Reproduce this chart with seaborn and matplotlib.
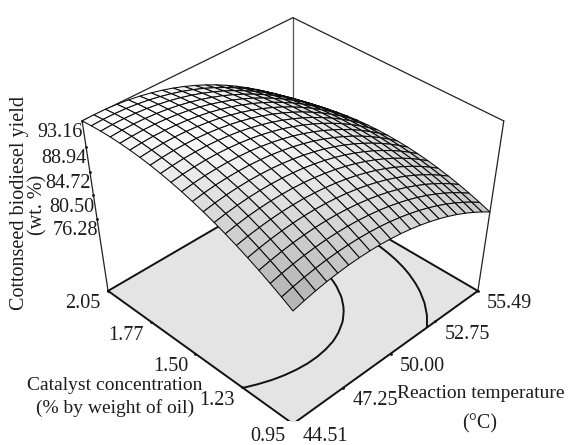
import numpy as np
import seaborn as sns
import matplotlib
matplotlib.use("Agg")
import matplotlib.pyplot as plt
from mpl_toolkits.mplot3d import proj3d

# ticks
TEMP_TICKS = [44.51, 47.25, 50.00, 52.75, 55.49]
CAT_TICKS = [0.95, 1.23, 1.50, 1.77, 2.05]
YIELD_TICKS = [93.16, 88.94, 84.72, 80.50, 76.28]
YIELD_FLOOR = 62.0
CONTOUR_LEVELS = [82.8, 88.42]

# estimated yield, rows go with catalyst 0.95 -> 2.05, columns with temperature 44.51 -> 55.49
YIELD = [
    [83.50, 84.00, 84.42, 84.75, 84.99, 85.16, 85.23, 85.23, 85.14, 84.96, 84.71, 84.36, 83.94, 83.42, 82.83, 82.15, 81.39, 80.54, 79.60, 78.59, 77.49],
    [84.62, 85.10, 85.49, 85.80, 86.03, 86.17, 86.22, 86.19, 86.08, 85.89, 85.61, 85.24, 84.79, 84.26, 83.64, 82.94, 82.16, 81.28, 80.33, 79.29, 78.17],
    [85.67, 86.13, 86.50, 86.79, 86.99, 87.11, 87.14, 87.10, 86.96, 86.74, 86.44, 86.05, 85.58, 85.03, 84.39, 83.67, 82.86, 81.97, 80.99, 79.93, 78.79],
    [86.66, 87.09, 87.44, 87.71, 87.89, 87.99, 88.00, 87.93, 87.77, 87.53, 87.21, 86.80, 86.31, 85.73, 85.07, 84.32, 83.50, 82.58, 81.58, 80.50, 79.33],
    [87.58, 87.99, 88.32, 88.56, 88.72, 88.80, 88.79, 88.69, 88.52, 88.25, 87.91, 87.48, 86.96, 86.37, 85.68, 84.92, 84.07, 83.13, 82.11, 81.01, 79.82],
    [88.43, 88.82, 89.12, 89.35, 89.48, 89.54, 89.51, 89.39, 89.19, 88.91, 88.54, 88.09, 87.55, 86.93, 86.23, 85.44, 84.57, 83.61, 82.57, 81.44, 80.23],
    [89.21, 89.58, 89.87, 90.07, 90.18, 90.21, 90.16, 90.02, 89.80, 89.50, 89.11, 88.63, 88.08, 87.44, 86.71, 85.90, 85.00, 84.02, 82.96, 81.81, 80.58],
    [89.93, 90.28, 90.54, 90.72, 90.81, 90.82, 90.75, 90.59, 90.35, 90.02, 89.61, 89.11, 88.53, 87.87, 87.12, 86.29, 85.37, 84.37, 83.29, 82.12, 80.86],
    [90.58, 90.91, 91.15, 91.30, 91.38, 91.36, 91.27, 91.09, 90.82, 90.47, 90.04, 89.52, 88.92, 88.24, 87.47, 86.61, 85.67, 84.65, 83.54, 82.35, 81.08],
    [91.16, 91.47, 91.69, 91.82, 91.87, 91.84, 91.72, 91.52, 91.23, 90.86, 90.41, 89.87, 89.24, 88.54, 87.74, 86.87, 85.91, 84.86, 83.73, 82.52, 81.22],
    [91.68, 91.96, 92.16, 92.27, 92.30, 92.24, 92.11, 91.88, 91.57, 91.18, 90.70, 90.14, 89.50, 88.77, 87.95, 87.06, 86.08, 85.01, 83.86, 82.62, 81.30],
    [92.13, 92.39, 92.56, 92.66, 92.66, 92.58, 92.42, 92.18, 91.85, 91.43, 90.94, 90.35, 89.69, 88.93, 88.10, 87.18, 86.18, 85.09, 83.91, 82.66, 81.32],
    [92.51, 92.75, 92.90, 92.97, 92.96, 92.86, 92.68, 92.41, 92.06, 91.62, 91.10, 90.49, 89.81, 89.03, 88.18, 87.23, 86.21, 85.10, 83.91, 82.63, 81.26],
    [92.83, 93.04, 93.18, 93.22, 93.19, 93.06, 92.86, 92.57, 92.20, 91.74, 91.20, 90.57, 89.86, 89.07, 88.19, 87.22, 86.18, 85.04, 83.83, 82.53, 81.14],
    [93.08, 93.27, 93.38, 93.41, 93.35, 93.20, 92.98, 92.67, 92.27, 91.79, 91.23, 90.58, 89.85, 89.03, 88.13, 87.14, 86.08, 84.92, 83.68, 82.36, 80.96],
    [93.26, 93.43, 93.52, 93.52, 93.44, 93.28, 93.03, 92.70, 92.28, 91.78, 91.19, 90.52, 89.77, 88.93, 88.00, 87.00, 85.91, 84.73, 83.47, 82.13, 80.70],
    [93.37, 93.52, 93.59, 93.57, 93.47, 93.28, 93.01, 92.66, 92.22, 91.69, 91.09, 90.40, 89.62, 88.76, 87.81, 86.79, 85.67, 84.48, 83.19, 81.83, 80.38],
    [93.42, 93.55, 93.59, 93.55, 93.43, 93.22, 92.93, 92.55, 92.09, 91.55, 90.92, 90.20, 89.40, 88.52, 87.56, 86.51, 85.37, 84.15, 82.85, 81.46, 79.99],
    [93.40, 93.51, 93.53, 93.47, 93.32, 93.09, 92.78, 92.38, 91.90, 91.33, 90.68, 89.94, 89.12, 88.22, 87.23, 86.16, 85.00, 83.76, 82.44, 81.03, 79.53],
    [93.31, 93.40, 93.40, 93.32, 93.15, 92.90, 92.56, 92.14, 91.64, 91.05, 90.38, 89.62, 88.78, 87.85, 86.84, 85.75, 84.57, 83.31, 81.96, 80.53, 79.01],
    [93.16, 93.22, 93.20, 93.10, 92.91, 92.63, 92.28, 91.83, 91.31, 90.70, 90.00, 89.22, 88.36, 87.41, 86.38, 85.26, 84.07, 82.78, 81.41, 79.96, 78.42],
]

FIG_W, FIG_H = 568, 445
BOX_HEIGHT = 0.919
TEXT_COLOR = "#1c1c1c"


def shade_cells(z):
    """Grey for each cell from its slope in box units."""
    z_range = YIELD_TICKS[0] - YIELD_FLOOR
    steps = z.shape[0] - 1
    dc, dt = np.gradient(z)
    p = dt * steps / z_range * BOX_HEIGHT
    q = dc * steps / z_range * BOX_HEIGHT
    v = (-p * 0.08 + 0.997) / np.sqrt(1 + p**2 + q**2)
    grey = np.clip((252 - 340 * (0.995 - v)) / 255, 0, 1)
    return np.dstack([grey, grey, grey])


def main():
    sns.set_theme(style="white")
    plt.rcParams["font.family"] = ["Liberation Serif", "DejaVu Sans"]
    plt.rcParams["font.size"] = 14

    fig = plt.figure(figsize=(FIG_W / 100, FIG_H / 100), dpi=100)
    ax = fig.add_subplot(projection="3d", computed_zorder=False)

    # picture is squashed a bit vertically, so the axes box is not square
    ax.set_position([58.7 / FIG_W, 24.5 / FIG_H, 456.2 / FIG_W, 407.0 / FIG_H])
    ax.apply_aspect = lambda position=None: None

    x0, x1 = TEMP_TICKS[0], TEMP_TICKS[-1]
    y0, y1 = CAT_TICKS[0], CAT_TICKS[-1]
    z0, z1 = YIELD_FLOOR, YIELD_TICKS[0]
    ax.set_xlim(x0, x1, view_margin=0)
    ax.set_ylim(y0, y1, view_margin=0)
    ax.set_zlim(z0, z1, view_margin=0)
    ax.set_box_aspect((1, 1, BOX_HEIGHT), zoom=1)
    ax.view_init(elev=42.2, azim=-135)
    ax.set_proj_type("persp", focal_length=0.5318)
    ax.set_axis_off()

    z = np.array(YIELD)
    temp = np.linspace(x0, x1, z.shape[1])
    cat = np.linspace(y0, y1, z.shape[0])
    T, C = np.meshgrid(temp, cat)

    # floor
    ax.plot_surface(
        np.array([[x0, x1], [x0, x1]]),
        np.array([[y0, y0], [y1, y1]]),
        np.array([[z0, z0], [z0, z0]]),
        color="#e4e4e4", shade=False, linewidth=0, zorder=1,
    )
    ax.contour(T, C, z, levels=CONTOUR_LEVELS, colors="#111111", linewidths=1.4,
               zdir="z", offset=z0, zorder=2)

    # floor outline
    for xs, ys in [((x0, x1), (y0, y0)), ((x0, x0), (y0, y1)),
                   ((x1, x1), (y0, y1)), ((x0, x1), (y1, y1))]:
        ax.plot(xs, ys, (z0, z0), color="#111111", lw=1.4, zorder=3)

    # uprights and back of the top
    for xs, ys, zs, col in [
        ((x0, x0), (y1, y1), (z0, z1), "#222222"),
        ((x1, x1), (y0, y0), (z0, z1), "#222222"),
        ((x1, x1), (y1, y1), (z0, z1), "#555555"),
        ((x0, x1), (y1, y1), (z1, z1), "#222222"),
        ((x1, x1), (y0, y1), (z1, z1), "#222222"),
    ]:
        ax.plot(xs, ys, zs, color=col, lw=0.9, zorder=3)

    # small tick dots
    ax.plot(TEMP_TICKS, [y0] * 5, [z0] * 5, ls="", marker="o", ms=1.0, color="#111111", zorder=3)
    ax.plot([x0] * 5, CAT_TICKS, [z0] * 5, ls="", marker="o", ms=1.0, color="#111111", zorder=3)
    ax.plot([x0] * 5, [y1] * 5, YIELD_TICKS, ls="", marker="o", ms=1.0, color="#111111", zorder=3)

    surf = ax.plot_surface(T, C, z, rstride=1, cstride=1, facecolors=shade_cells(z),
                           shade=False, linewidth=0.75, zorder=5)
    surf.set_edgecolor("#0a0a0a")

    proj = ax.get_proj()

    def tick_label(x, y, zv, text, dx, dy):
        px, py, _ = proj3d.proj_transform(x, y, zv, proj)
        ax.annotate(text, (px, py), xytext=(dx, -dy), textcoords="offset pixels",
                    ha="center", va="center", color=TEXT_COLOR, annotation_clip=False,
                    fontsize=14.5, zorder=6)

    for val in TEMP_TICKS:
        tick_label(val, y0, z0, f"{val:.2f}", 32, 13)
    for val in CAT_TICKS:
        tick_label(x0, val, z0, f"{val:.2f}", -25, 13)
    for val in YIELD_TICKS:
        tick_label(x0, y1, val, f"{val:.2f}", -22, 12)

    def fig_text(px, py, text, rotation=0, size=14):
        fig.text(px / FIG_W, 1 - py / FIG_H, text, ha="center", va="center",
                 rotation=rotation, color=TEXT_COLOR, fontsize=size)

    fig_text(20, 203, "Cottonseed biodiesel yield", rotation=90, size=14.5)
    fig_text(38, 205, "(wt. %)", rotation=90, size=14.5)
    fig_text(115, 385, "Catalyst concentration")
    fig_text(115, 408, "(% by weight of oil)")
    fig_text(481, 393, "Reaction temperature")
    fig_text(480, 424, "(\u00b0C)", size=14.5)

    fig.savefig("out.png", dpi=100)
    plt.close(fig)


if __name__ == "__main__":
    main()
